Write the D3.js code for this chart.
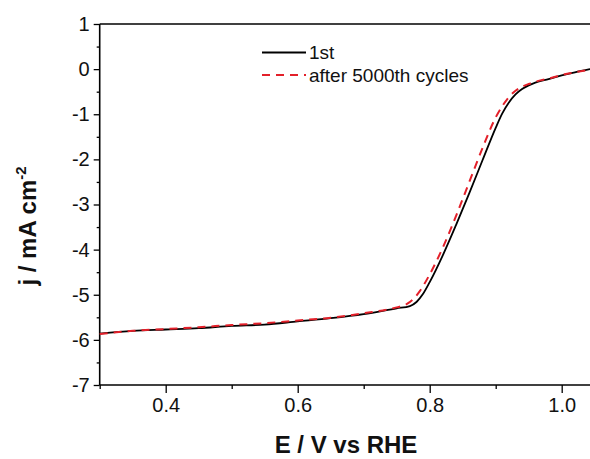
<!DOCTYPE html>
<html>
<head>
<meta charset="utf-8">
<script src="https://cdn.jsdelivr.net/npm/d3@7"></script>
<style>
  body { margin: 0; background: #fff; }
  svg { font-family: Arial, "Liberation Sans", sans-serif; }
</style>
</head>
<body>
<div id="graphic"></div>
<script>
// Courbes LSV - 1er cycle et après 5000 cycles

// Données
let firstE = [0.30, 0.35, 0.40, 0.45, 0.50, 0.55, 0.60, 0.65, 0.70, 0.75, 0.77, 0.78, 0.79, 0.80, 0.82, 0.84, 0.86, 0.88, 0.90, 0.91, 0.92, 0.93, 0.94, 0.95, 0.96, 0.98, 1.00, 1.02, 1.043];
let firstJ = [-5.86, -5.80, -5.77, -5.74, -5.69, -5.66, -5.59, -5.52, -5.43, -5.30, -5.25, -5.16, -4.98, -4.72, -4.12, -3.45, -2.75, -2.02, -1.30, -0.98, -0.74, -0.56, -0.44, -0.36, -0.30, -0.22, -0.14, -0.07, 0.00];

let afterE = [0.30, 0.35, 0.40, 0.45, 0.50, 0.55, 0.60, 0.65, 0.70, 0.75, 0.765, 0.775, 0.785, 0.80, 0.82, 0.84, 0.86, 0.88, 0.90, 0.91, 0.92, 0.93, 0.94, 0.95, 0.96, 0.98, 1.00, 1.02, 1.043];
let afterJ = [-5.87, -5.80, -5.76, -5.72, -5.67, -5.63, -5.57, -5.51, -5.41, -5.28, -5.21, -5.10, -4.92, -4.55, -3.95, -3.25, -2.50, -1.75, -1.07, -0.82, -0.62, -0.48, -0.39, -0.33, -0.28, -0.21, -0.13, -0.07, -0.01];

let xTicks = [0.4, 0.6, 0.8, 1.0];
let xMinor = [0.3, 0.5, 0.7, 0.9];
let yTicks = [1, 0, -1, -2, -3, -4, -5, -6, -7];
let yMinor = [0.5, -0.5, -1.5, -2.5, -3.5, -4.5, -5.5, -6.5];

let legendLabels = ["1st", "after 5000th cycles"];

// Cadre
let largeur = 590, hauteur = 459;
let marge = {gauche: 99.7, haut: 24, bas: 385};

let cadre = d3.select("#graphic")
  .append("svg")
  .attr("width", largeur)
  .attr("height", hauteur);

let scaleX = d3.scaleLinear().domain([0.3, 1.05]).range([marge.gauche, marge.gauche + 0.75 * 660]);
let scaleY = d3.scaleLinear().domain([-7, 1]).range([marge.bas, marge.haut]);

// Axe X (grandes graduations)
cadre.append("g")
  .attr("transform", `translate(0, ${marge.bas})`)
  .call(d3.axisBottom(scaleX).tickValues(xTicks).tickFormat(d3.format(".1f")).tickSize(8).tickPadding(5))
  .call(g => g.select(".domain").remove())
  .call(g => g.selectAll("line").attr("stroke-width", 1.3))
  .call(g => g.selectAll("text").attr("font-size", 20).attr("fill", "#111"));

// Axe X (petites graduations)
cadre.append("g")
  .attr("transform", `translate(0, ${marge.bas})`)
  .call(d3.axisBottom(scaleX).tickValues(xMinor).tickFormat("").tickSize(4))
  .call(g => g.select(".domain").remove())
  .call(g => g.selectAll("line").attr("stroke-width", 1.3));

// Axe Y
cadre.append("g")
  .attr("transform", `translate(${marge.gauche}, 0)`)
  .call(d3.axisLeft(scaleY).tickValues(yTicks).tickFormat(d => d < 0 ? "-" + Math.abs(d) : d).tickSize(6).tickPadding(4))
  .call(g => g.select(".domain").remove())
  .call(g => g.selectAll("line").attr("stroke-width", 1.3))
  .call(g => g.selectAll("text").attr("font-size", 20).attr("fill", "#111"));

cadre.append("g")
  .attr("transform", `translate(${marge.gauche}, 0)`)
  .call(d3.axisLeft(scaleY).tickValues(yMinor).tickFormat("").tickSize(3))
  .call(g => g.select(".domain").remove())
  .call(g => g.selectAll("line").attr("stroke-width", 1.3));

// Bordures du cadre
cadre.append("line")
  .attr("x1", marge.gauche).attr("x2", largeur)
  .attr("y1", marge.bas).attr("y2", marge.bas)
  .attr("stroke", "#000").attr("stroke-width", 1.6);
cadre.append("line")
  .attr("x1", marge.gauche).attr("x2", largeur)
  .attr("y1", marge.haut).attr("y2", marge.haut)
  .attr("stroke", "#000").attr("stroke-width", 1.6);
cadre.append("line")
  .attr("x1", marge.gauche).attr("x2", marge.gauche)
  .attr("y1", marge.haut).attr("y2", marge.bas)
  .attr("stroke", "#000").attr("stroke-width", 1.6);

// Courbes
let ligne = d3.line()
  .x(d => scaleX(d[0]))
  .y(d => scaleY(d[1]))
  .curve(d3.curveMonotoneX);

cadre.append("path")
  .datum(firstE.map((e, i) => [e, firstJ[i]]))
  .attr("d", ligne)
  .attr("fill", "none")
  .attr("stroke", "#000")
  .attr("stroke-width", 1.8);

cadre.append("path")
  .datum(afterE.map((e, i) => [e, afterJ[i]]))
  .attr("d", ligne)
  .attr("fill", "none")
  .attr("stroke", "#e3202a")
  .attr("stroke-width", 2)
  .attr("stroke-dasharray", "8,6");

// Légende
let legende = cadre.append("g");
legende.append("line")
  .attr("x1", 262).attr("x2", 306).attr("y1", 52.5).attr("y2", 52.5)
  .attr("stroke", "#000").attr("stroke-width", 1.8);
legende.append("line")
  .attr("x1", 262).attr("x2", 306).attr("y1", 75).attr("y2", 75)
  .attr("stroke", "#e3202a").attr("stroke-width", 2).attr("stroke-dasharray", "8,6");
legende.selectAll("text")
  .data(legendLabels)
  .enter()
  .append("text")
  .attr("x", 309)
  .attr("y", (d, i) => 59 + i * 22.5)
  .attr("font-size", 19)
  .attr("fill", "#111")
  .text(d => d);

// Titres des axes
cadre.append("text")
  .attr("x", 346)
  .attr("y", 453)
  .attr("text-anchor", "middle")
  .attr("font-size", 24)
  .attr("font-weight", "bold")
  .attr("fill", "#111")
  .text("E / V vs RHE");

let titreY = cadre.append("text")
  .attr("transform", "translate(36, 226) rotate(-90)")
  .attr("text-anchor", "middle")
  .attr("font-size", 24)
  .attr("font-weight", "bold")
  .attr("fill", "#111");
titreY.append("tspan").text("j / mA cm");
titreY.append("tspan").attr("font-size", 15).attr("dy", -10).text("-2");
</script>
</body>
</html>
